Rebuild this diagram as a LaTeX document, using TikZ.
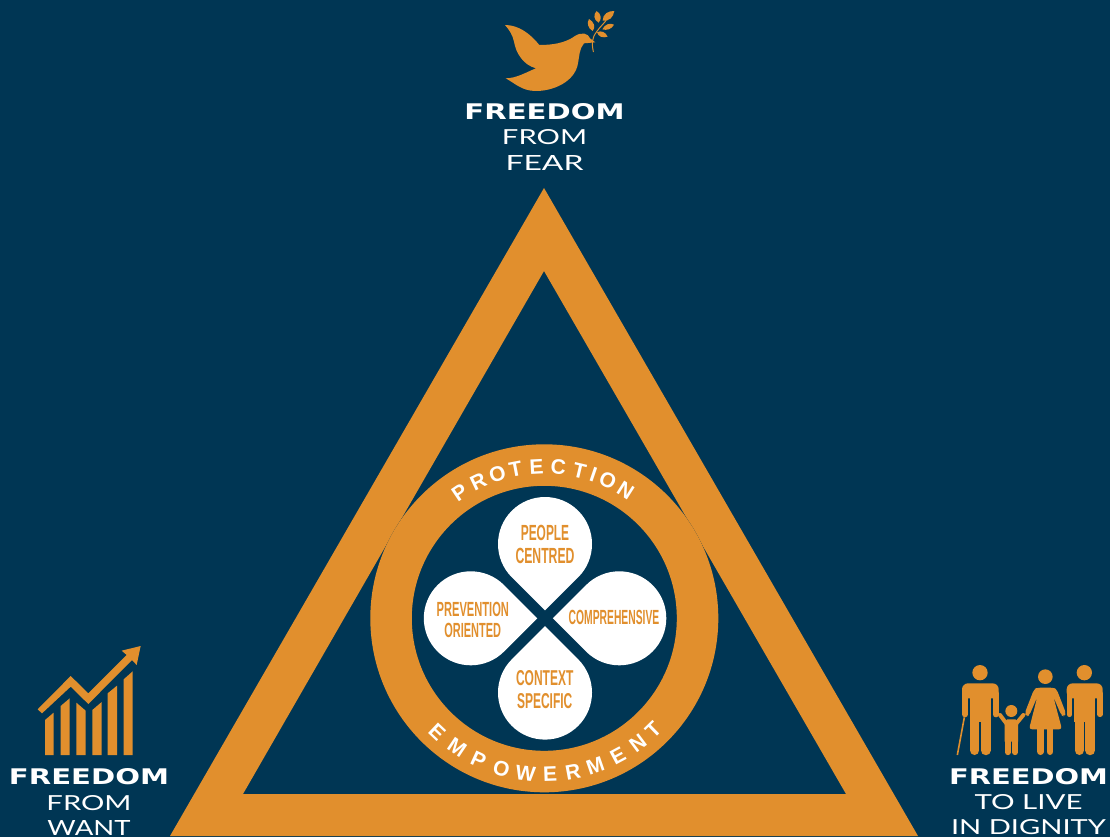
\documentclass[tikz,border=0pt]{standalone}
\usepackage{fontspec}
\usepackage{graphicx}
\setmainfont{Liberation Sans}
\newfontfamily\thinf{Lato}
\newfontfamily\boldf{Liberation Sans Bold}
\newfontfamily\heavyf{DejaVu Sans Bold}
\definecolor{navy}{RGB}{0,54,84}
\definecolor{gold}{RGB}{225,143,45}
\newcommand{\fit}[3]{\resizebox{#1pt}{#2pt}{#3}}
\tikzset{
  x=1pt,y=-1pt,
  lbl/.style={inner sep=0pt,outer sep=0pt,anchor=south,text=white},
  petlbl/.style={lbl,text=gold,font=\boldf},
  letter/.style={inner sep=0pt,text=white,font=\boldf\fontsize{21}{21}\selectfont},
  limb/.style={gold,line cap=round,line join=round},
}
\newcommand{\petal}[3]{\fill[white,shift={(#1,#2)}] (#3-45:47) arc[start angle=#3-45,end angle=#3-315,radius=47] -- (#3:66.47) -- cycle;}
\begin{document}
\begin{tikzpicture}
\fill[navy] (0,0) rectangle (1110,837);
\useasboundingbox (0,0) rectangle (1110,837);
% triangle
\fill[gold,even odd rule] (544,188) -- (918,836) -- (170,836) -- cycle (544,271) -- (846,794) -- (243,794) -- cycle;
% ring
\fill[navy] (544.3,618.3) circle (174);
\fill[gold,even odd rule] (544.3,618.3) circle (174) (544.3,618.3) circle (132.5);
% petals
\petal{545}{544}{90}
\petal{619.3}{618.3}{180}
\petal{545}{692.6}{270}
\petal{470.8}{618.3}{0}
% petal labels
\node[petlbl] (people) at (545,541) {\fit{48.3}{15.3}{PEOPLE}};
\node[petlbl] (centred) at (545,563.3) {\fit{59}{15.3}{CENTRED}};
\node[petlbl] (prevention) at (472.8,616.7) {\fit{72.3}{14.3}{PREVENTION}};
\node[petlbl] (oriented) at (472.7,637.3) {\fit{56.7}{14.3}{ORIENTED}};
\node[petlbl] (comprehensive) at (614,625) {\fit{90.7}{14.3}{COMPREHENSIVE}};
\node[petlbl] (context) at (544.7,685.7) {\fit{57.3}{15}{CONTEXT}};
\node[petlbl] (specific) at (544.7,708.7) {\fit{55.3}{15}{SPECIFIC}};
% ring letters
\foreach \a/\c [count=\i] in {-34/P,-25.8/R,-18/O,-10.9/T,-3/E,5.3/C,13.4/T,18.9/I,24.8/O,32.5/N}
  \node[letter,rotate={-\a}] (pr\i) at ({544.3+151.5*sin(\a)},{618.3-151.5*cos(\a)}) {\c};
\foreach \a/\c [count=\i] in {-43.4/E,-34/M,-24.9/P,-15.9/O,-6.9/W,2.1/E,10.6/R,19.1/M,28.1/E,36.9/N,44.3/T}
  \node[letter,rotate=\a] (em\i) at ({544.3+156*sin(\a)},{618.3+156*cos(\a)}) {\c};
% corner labels
\node[lbl] (f1) at (544.5,120) {\fit{160}{16}{\heavyf FREEDOM}};
\node[lbl] (f1a) at (544.5,145) {\fit{85}{15}{\thinf FROM}};
\node[lbl] (f1b) at (544.5,171) {\fit{78}{15}{\thinf FEAR}};
\node[lbl] (f2) at (89,785) {\fit{160}{16}{\heavyf FREEDOM}};
\node[lbl] (f2a) at (89,810.5) {\fit{85}{15}{\thinf FROM}};
\node[lbl] (f2b) at (89,835) {\fit{83}{15}{\thinf WANT}};
\node[lbl] (f3) at (1028.5,785) {\fit{159}{16}{\heavyf FREEDOM}};
\node[lbl] (f3a) at (1028.5,809.5) {\fit{108}{15}{\thinf TO LIVE}};
\node[lbl] (f3b) at (1028.5,835) {\fit{155}{15}{\thinf IN DIGNITY}};
% dove
\begin{scope}[shift={(440,0)},scale=1/3]
\fill[gold] (195,75) .. controls (235,75) and (270,100) .. (298,135)
  .. controls (335,135) and (375,130) .. (405,108)
  .. controls (425,95) and (445,100) .. (450,115) -- (466,127)
  -- (432,130) .. controls (418,145) and (418,170) .. (414,190)
  .. controls (405,245) and (340,274) .. (285,273)
  .. controls (245,272) and (225,250) .. (197,235)
  .. controls (230,235) and (262,215) .. (288,205)
  .. controls (250,195) and (228,160) .. (222,125)
  .. controls (218,105) and (208,90) .. (195,75) -- cycle;
\draw[gold,line width=1pt,line cap=round] (460,155) .. controls (455,130) and (455,115) .. (470,95) .. controls (480,80) and (495,68) .. (500,58);
\fill[gold] (488,62) .. controls (488,42) and (505,32) .. (523,33) .. controls (520,52) and (508,64) .. (488,62) -- cycle;
\fill[gold] (476,68) .. controls (460,60) and (460,42) .. (470,33) .. controls (484,42) and (486,58) .. (476,68) -- cycle;
\fill[gold] (458,93) .. controls (443,85) and (440,68) .. (447,57) .. controls (462,65) and (468,82) .. (458,93) -- cycle;
\fill[gold] (487,88) .. controls (495,72) and (510,68) .. (522,74) .. controls (515,88) and (500,92) .. (487,88) -- cycle;
\fill[gold] (471,97) .. controls (482,90) and (497,96) .. (503,110) .. controls (488,115) and (475,110) .. (471,97) -- cycle;
\end{scope}
% chart
\begin{scope}[shift={(0,630)},scale=1/3]
\fill[gold] (135,375) -- (135,270) -- (161,248) -- (161,375) -- cycle;
\fill[gold] (182,375) -- (182,228) -- (209,205) -- (209,375) -- cycle;
\fill[gold] (229,375) -- (229,218) -- (257,242) -- (257,375) -- cycle;
\fill[gold] (277,375) -- (277,240) -- (305,216) -- (305,375) -- cycle;
\fill[gold] (323,375) -- (323,190) -- (351,167) -- (351,375) -- cycle;
\fill[gold] (371,375) -- (371,148) -- (398,124) -- (398,375) -- cycle;
\fill[gold] (113,238) -- (212,138) -- (265,190) -- (380,75) -- (365,62) -- (422,48) -- (410,105) -- (396,90) -- (265,222) -- (212,170) -- (126,250) -- cycle;
\end{scope}
% people
\begin{scope}[shift={(900,650)},scale=1/3]
% old man
\fill[gold] (240,68) circle (23);
\draw[limb,line width=1.6pt,line cap=butt] (172,315) -- (193,202);
\fill[gold,rounded corners=6pt] (186,145) -- (186,100) -- (296,100) -- (296,145) -- cycle;
\fill[gold] (210,120) rectangle (272,215);
\draw[limb,line width=6pt] (195,130) -- (195,193);
\draw[limb,line width=6pt] (287,130) -- (287,193);
\draw[limb,line width=9.4pt] (224,200) -- (224,301);
\draw[limb,line width=9.8pt] (257,200) -- (257,301);
% child
\fill[gold] (334,183) circle (18);
\draw[limb,line width=4pt] (300,195) -- (322,224) -- (346,224) -- (370,195);
\fill[gold] (314,215) -- (322,208) -- (346,208) -- (354,215) -- (354,275) -- (314,275) -- cycle;
\draw[limb,line width=5.6pt] (323.5,265) -- (323.5,307);
\draw[limb,line width=5.6pt] (345.5,265) -- (345.5,307);
% woman
\fill[gold] (436,80) circle (22);
\fill[gold,rounded corners=3pt] (412,113) -- (402,118) -- (374,190) -- (380,199) -- (388,196) -- (412,140) -- (387,238) -- (486,238) -- (460,140) -- (484,196) -- (492,199) -- (498,190) -- (470,118) -- (460,113) -- cycle;
\draw[limb,line width=6.7pt] (422,230) -- (422,305);
\draw[limb,line width=6.7pt] (450,230) -- (450,305);
% right man
\fill[gold] (553,68) circle (23);
\fill[gold,rounded corners=6pt] (500,145) -- (500,100) -- (608,100) -- (608,145) -- cycle;
\fill[gold] (522,120) rectangle (586,215);
\draw[limb,line width=5.5pt] (508.5,130) -- (508.5,193);
\draw[limb,line width=5.5pt] (599.5,130) -- (599.5,193);
\draw[limb,line width=9.4pt] (538,200) -- (538,301);
\draw[limb,line width=9.8pt] (571,200) -- (571,301);
\end{scope}
\end{tikzpicture}
\end{document}
